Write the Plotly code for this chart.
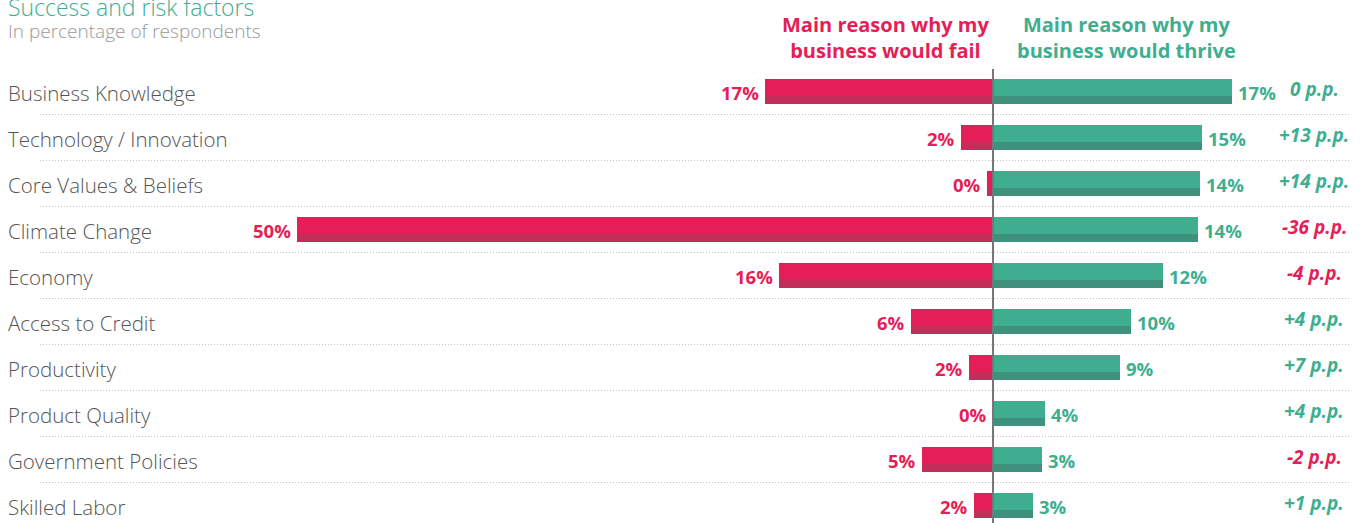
import plotly.graph_objects as go

categories = ["Business Knowledge", "Technology / Innovation", "Core Values & Beliefs",
              "Climate Change", "Economy", "Access to Credit", "Productivity",
              "Product Quality", "Government Policies", "Skilled Labor"]
fail_pct = [16.4, 2.3, 0.4, 50.0, 15.4, 5.9, 1.7, 0.0, 5.1, 1.4]
thrive_pct = [17.2, 15.0, 14.9, 14.7, 12.2, 9.9, 9.1, 3.7, 3.5, 2.9]
fail_labels = [17, 2, 0, 50, 16, 6, 2, 0, 5, 2]
thrive_labels = [17, 15, 14, 14, 12, 10, 9, 4, 3, 3]
header_fail = ["Main reason why my", "business would fail"]
header_thrive = ["Main reason why my", "business would thrive"]

PINK = "#E61E57"
PINK_DARK = "#C22D5A"
GREEN = "#3FAE90"
GREEN_DARK = "#3F917D"
W, H = 1364, 523
PX = 13.92          # pixels per percentage point
CENTER = 993
ROW = 46
FIRST = 91.5

ys = list(range(len(categories)))
neg_fail = [-v for v in fail_pct]

fig = go.Figure()
bw = 25 / ROW
dw = 8 / ROW
doff = 4.5 / ROW
for vals, c, cd in [(neg_fail, PINK, PINK_DARK), (thrive_pct, GREEN, GREEN_DARK)]:
    fig.add_trace(go.Bar(y=ys, x=vals, orientation="h", width=bw, marker_color=c,
                         marker_line=dict(width=0), hoverinfo="skip", showlegend=False))
    fig.add_trace(go.Bar(y=ys, x=vals, orientation="h", width=dw, offset=doff,
                         marker_color=cd, marker_line=dict(width=0), hoverinfo="skip",
                         showlegend=False))

xmin = -CENTER / PX
xmax = (W - CENTER) / PX
ytop = -FIRST / ROW
ybot = (H - FIRST) / ROW

annotations = []
label_font = "Open Sans"
for i, cat in enumerate(categories):
    annotations.append(dict(x=6 / W, xref="paper", y=i + 0.04, yref="y", text=cat,
                            xanchor="left", yanchor="middle", showarrow=False,
                            font=dict(family="Open Sans", size=20.5, color="#555555", weight=300)))
    annotations.append(dict(x=-fail_pct[i], xref="x", y=i + 0.03, yref="y",
                            text=f"{fail_labels[i]}%", xanchor="right", yanchor="middle",
                            xshift=-4, showarrow=False,
                            font=dict(family=label_font, size=18.5, color=PINK, weight="bold")))
    annotations.append(dict(x=thrive_pct[i], xref="x", y=i + 0.03, yref="y",
                            text=f"{thrive_labels[i]}%", xanchor="left", yanchor="middle",
                            xshift=4, showarrow=False,
                            font=dict(family=label_font, size=18.5, color=GREEN, weight="bold")))
    d = thrive_labels[i] - fail_labels[i]
    dtxt = f"+{d} p.p." if d > 0 else f"{d} p.p."
    annotations.append(dict(x=1314 / W, xref="paper", y=i - 0.05, yref="y",
                            text=f"<i>{dtxt}</i>", xanchor="center", yanchor="middle",
                            showarrow=False,
                            font=dict(family=label_font, size=19,
                                      color=GREEN if d >= 0 else PINK, weight="bold")))

annotations += [
    dict(x=6 / W, xref="paper", y=1 - 7 / H, yref="paper", text="Success and risk factors",
         xanchor="left", yanchor="middle", showarrow=False,
         font=dict(family="Open Sans", size=23, color=GREEN, weight=300)),
    dict(x=6 / W, xref="paper", y=1 - 31 / H, yref="paper", text="In percentage of respondents",
         xanchor="left", yanchor="middle", showarrow=False,
         font=dict(family="Open Sans", size=19, color="#999999", weight=300)),
    dict(x=885 / W, xref="paper", y=1 - 37 / H, yref="paper", text="<br>".join(header_fail),
         align="center", xanchor="center", yanchor="middle", showarrow=False,
         font=dict(family=label_font, size=20, color=PINK, weight="bold")),
    dict(x=1126 / W, xref="paper", y=1 - 37 / H, yref="paper", text="<br>".join(header_thrive),
         align="center", xanchor="center", yanchor="middle", showarrow=False,
         font=dict(family=label_font, size=20, color=GREEN, weight="bold")),
]

shapes = []
for i in range(len(categories) - 1):
    shapes.append(dict(type="line", xref="paper", yref="y", x0=40 / W, x1=1349 / W,
                       y0=i + 0.5, y1=i + 0.5,
                       line=dict(color="#C4C4C4", width=1, dash="1px,2px")))
shapes.append(dict(type="line", xref="x", yref="paper", x0=0, x1=0, y0=0, y1=1 - 69 / H,
                   line=dict(color="#777777", width=2), layer="above"))

fig.update_layout(
    width=W, height=H, margin=dict(l=0, r=0, t=0, b=0),
    paper_bgcolor="white", plot_bgcolor="white",
    barmode="overlay", bargap=0,
    xaxis=dict(range=[xmin, xmax], visible=False, fixedrange=True),
    yaxis=dict(range=[ybot, ytop], visible=False, fixedrange=True),
    annotations=annotations, shapes=shapes,
)

fig.write_html("out.html", config={"displayModeBar": False})
